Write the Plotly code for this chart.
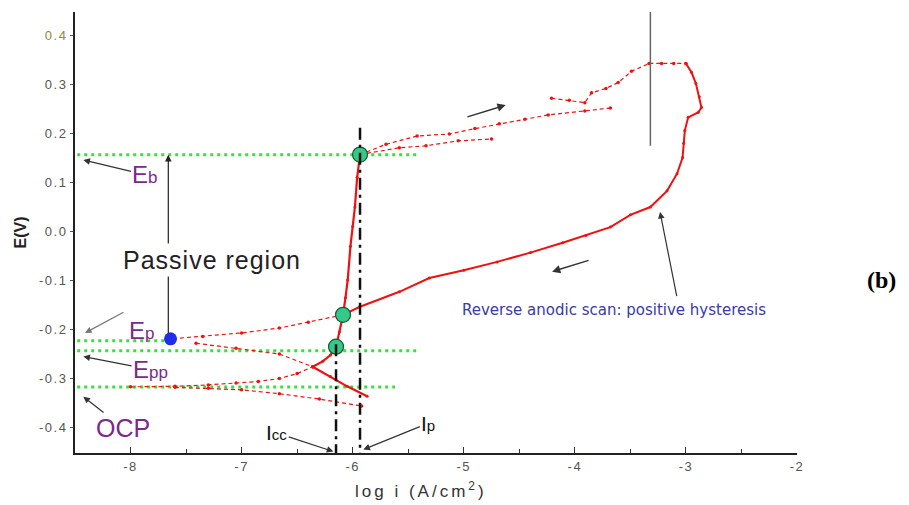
import plotly.graph_objects as go

# ---------------- data ----------------
# forward scan: from low-current OCP region up to the crossing (dotted)
fwd_low_x = [-8.0, -7.6, -7.3, -7.05, -6.85, -6.66, -6.5, -6.36]
fwd_low_y = [-0.317, -0.316, -0.313, -0.309, -0.306, -0.300, -0.290, -0.276]
# forward scan: crossing -> passive region -> breakdown (solid)
fwd_pass_x = [-6.36, -6.27, -6.20, -6.15, -6.12, -6.087, -6.065, -6.045, -6.02, -6.0, -5.98, -5.96, -5.934]
fwd_pass_y = [-0.276, -0.265, -0.252, -0.235, -0.205, -0.170, -0.135, -0.099, -0.03, 0.01, 0.05, 0.11, 0.157]
# branch through the crossing (dotted part, then solid part)
br_dot_x = [-7.41, -7.05, -6.66, -6.36]
br_dot_y = [-0.228, -0.238, -0.250, -0.276]
br_sol_x = [-6.36, -6.2, -6.05, -5.87]
br_sol_y = [-0.276, -0.296, -0.316, -0.336]
# lower cathodic branch (dotted)
cath_x = [-7.6, -7.3, -7.0, -6.66, -6.3, -5.92]
cath_y = [-0.318, -0.320, -0.323, -0.331, -0.342, -0.356]
# transpassive forward lines
tp_a_x = [-5.934, -5.58, -5.34, -5.05, -4.75]
tp_a_y = [0.157, 0.171, 0.175, 0.185, 0.189]
tp_b_x = [-5.934, -5.7, -5.42, -5.13, -4.9, -4.68, -4.45, -4.24, -3.91, -3.68]
tp_b_y = [0.157, 0.178, 0.195, 0.199, 0.210, 0.220, 0.229, 0.238, 0.246, 0.252]
tp_c_x = [-4.21, -4.05, -3.91, -3.85, -3.72, -3.61, -3.49, -3.33]
tp_c_y = [0.272, 0.268, 0.263, 0.283, 0.292, 0.304, 0.327, 0.343]
top_x = [-3.33, -3.22, -3.11, -3.0]
top_y = [0.343, 0.343, 0.343, 0.343]
# reverse scan (solid)
rev_x = [-3.0, -2.95, -2.91, -2.88, -2.86, -2.89, -2.98, -3.01, -3.02, -3.03, -3.08, -3.17,
         -3.32, -3.50, -3.68, -3.9, -4.11, -4.4, -4.70, -5.0, -5.31, -5.58, -5.94, -6.087]
rev_y = [0.343, 0.325, 0.302, 0.275, 0.253, 0.243, 0.233, 0.206, 0.180, 0.151, 0.118, 0.083,
         0.050, 0.034, 0.009, -0.008, -0.023, -0.043, -0.062, -0.079, -0.095, -0.123, -0.154, -0.170]
# reverse scan end: to protection potential (dotted)
rev_end_x = [-6.087, -6.4, -6.66, -7.0, -7.35, -7.64]
rev_end_y = [-0.170, -0.185, -0.197, -0.207, -0.214, -0.219]

# characteristic potentials (green dotted levels): E, x from, x to
E_b, E_p, E_pp, E_ocp = 0.1565, -0.223, -0.2435, -0.3175
levels = [(E_b, -8.48, -5.394), (E_p, -8.48, -7.674), (E_pp, -8.48, -5.394), (E_ocp, -8.48, -5.619)]
# marked points
green_x = [-5.934, -6.087, -6.15]
green_y = [0.157, -0.170, -0.235]
blue_x = [-7.64]
blue_y = [-0.219]
# current densities
I_cc, I_p = -6.15, -5.934
vline_x = -3.32

x_ticks = [-8, -7, -6, -5, -4, -3, -2]
y_ticks = [0.4, 0.3, 0.2, 0.1, 0.0, -0.1, -0.2, -0.3, -0.4]

RED = "#ee1111"
fig = go.Figure()

# green levels
for (e, x0, x1) in levels:
    fig.add_trace(go.Scatter(x=[x0, x1], y=[e, e], mode="lines",
                             line=dict(color="#33e33a", width=3, dash="3px,4px"),
                             hoverinfo="skip", showlegend=False))

def red(x, y, solid=False, w=None):
    fig.add_trace(go.Scatter(
        x=x, y=y, mode="lines+markers",
        line=dict(color=RED, width=w or (2.2 if solid else 1.2), dash="solid" if solid else "4px,3px"),
        marker=dict(color=RED, size=3.5 if not solid else 3, symbol="circle"),
        hoverinfo="skip", showlegend=False))

red(fwd_low_x, fwd_low_y)
red(fwd_pass_x, fwd_pass_y, solid=True)
red(br_dot_x, br_dot_y)
red(br_sol_x, br_sol_y, solid=True)
red(cath_x, cath_y)
red(tp_a_x, tp_a_y)
red(tp_b_x, tp_b_y)
red(tp_c_x, tp_c_y)
red(top_x, top_y)
red(rev_x, rev_y, solid=True, w=2.0)
red(rev_end_x, rev_end_y)

# gray vertical line
fig.add_trace(go.Scatter(x=[vline_x, vline_x], y=[0.448, 0.175], mode="lines",
                         line=dict(color="#666666", width=1.5), hoverinfo="skip", showlegend=False))

# green circles
fig.add_trace(go.Scatter(x=green_x, y=green_y, mode="markers",
                         marker=dict(color="#36c78a", size=15, line=dict(color="#145c2e", width=1.2)),
                         hoverinfo="skip", showlegend=False))

# dash-dot current lines
fig.add_trace(go.Scatter(x=[I_cc, I_cc], y=[-0.23, -0.452], mode="lines",
                         line=dict(color="#111111", width=2.5, dash="12px,5px,3px,5px"),
                         hoverinfo="skip", showlegend=False))
fig.add_trace(go.Scatter(x=[I_p, I_p], y=[0.212, -0.452], mode="lines",
                         line=dict(color="#111111", width=2.5, dash="12px,5px,3px,5px"),
                         hoverinfo="skip", showlegend=False))

# blue point
fig.add_trace(go.Scatter(x=blue_x, y=blue_y, mode="markers",
                         marker=dict(color="#1f2ee8", size=13), hoverinfo="skip", showlegend=False))

ann = []
FONT = "Liberation Sans, Arial"

def arrow(hx, hy, tx, ty, color="#333333", w=1.2):
    ann.append(dict(x=hx, y=hy, ax=tx, ay=ty, xref="x", yref="y", axref="x", ayref="y",
                    text="", showarrow=True, arrowhead=2, arrowsize=1.1, arrowwidth=w,
                    arrowcolor=color, standoff=0))

def label(x, y, t, size, color, family=FONT, bg=None, head=None, acolor="#333333"):
    d = dict(text=t, font=dict(size=size, color=color, family=family))
    if head is None:
        d.update(x=x, y=y, xref="x", yref="y", showarrow=False)
    else:
        d.update(x=head[0], y=head[1], ax=x, ay=y, xref="x", yref="y", axref="x", ayref="y",
                 showarrow=True, arrowhead=2, arrowsize=1.1, arrowwidth=1.2,
                 arrowcolor=acolor, standoff=0)
    if bg:
        d["bgcolor"] = bg
        d["borderpad"] = 2
    ann.append(d)

PURPLE = "#7a2a8c"
# passive region arrow
arrow(blue_x[0] - 0.02, E_b, blue_x[0] - 0.02, -0.21, color="#222222", w=1.2)
label(-7.27, -0.058, '<span style="letter-spacing:1px">Passive region</span>', 25, "#222222", bg="white")

label(-7.87, 0.116, 'E<span style="font-size:17px">b</span>', 24, PURPLE, head=(-8.425, 0.146))
arrow(-8.41, -0.207, -8.05, -0.163, color="#777777")
label(-7.90, -0.203, 'E<span style="font-size:17px">p</span>', 24, PURPLE)
label(-7.82, -0.282, 'E<span style="font-size:17px">pp</span>', 24, PURPLE, head=(-8.425, -0.255))
label(-8.065, -0.401, "OCP", 25, PURPLE, head=(-8.425, -0.337))

label(-6.684, -0.411, 'I<span style="font-size:15px">cc</span>', 21, "#111111", head=(-6.174, -0.449))
label(-5.319, -0.391, 'I<span style="font-size:15px">p</span>', 21, "#111111", head=(-5.904, -0.445))

arrow(-3.233, 0.040, -3.08, -0.135)
label(-3.647, -0.160, "Reverse anodic scan: positive hysteresis", 15, "#3a3aa8", family="DejaVu Sans")

arrow(-4.623, 0.258, -4.98, 0.233, w=1.5)
arrow(-4.205, -0.082, -3.863, -0.058, w=1.5)

ann.append(dict(x=1.14, y=0.392, xref="paper", yref="paper", text="<b>(b)</b>", showarrow=False,
                font=dict(size=24, color="#000000", family="Liberation Serif, Times New Roman")))

# x-axis title (placed as in the reference, slightly left of centre)
ann.append(dict(x=0.479, y=-0.084, xref="paper", yref="paper", yanchor="middle",
                text='<span style="letter-spacing:3px">log i (A/cm<sup>2</sup>)</span>',
                showarrow=False, font=dict(size=17, color="#333333", family=FONT)))

ytext = []
for v in y_ticks:
    s = f"{v:.1f}".replace("-0.0", "0.0")
    col = "#8a8a3a" if v == 0.4 else "#555555"
    ytext.append(f'<span style="letter-spacing:1.5px;color:{col}">{s}</span>')
xtext = [f'<span style="letter-spacing:1.5px">{v}</span>' for v in x_ticks]

fig.update_layout(
    width=909, height=505,
    margin=dict(l=75, r=112, t=12, b=52),
    paper_bgcolor="white", plot_bgcolor="white",
    showlegend=False,
    annotations=ann,
    xaxis=dict(range=[-8.5, -2], showgrid=False, zeroline=False, showline=True,
               linecolor="#222222", linewidth=2,
               tickvals=x_ticks, ticktext=xtext,
               ticks="inside", ticklen=6, tickwidth=1.2, tickcolor="#333333",
               minor=dict(dtick=0.5, tick0=-8.5, ticks="inside", ticklen=4, tickcolor="#333333"),
               tickfont=dict(size=13, color="#555555", family=FONT)),
    yaxis=dict(range=[-0.452, 0.448], showgrid=False, zeroline=False, showline=True,
               linecolor="#222222", linewidth=2,
               tickvals=y_ticks, ticktext=ytext,
               ticks="outside", ticklen=3, tickwidth=1.2, tickcolor="#555555",
               tickfont=dict(size=13, color="#555555", family=FONT),
               title=dict(text="<b>E(V)</b>", standoff=8,
                          font=dict(size=16, color="#222222", family=FONT))),
)

fig.write_html("out.html")
